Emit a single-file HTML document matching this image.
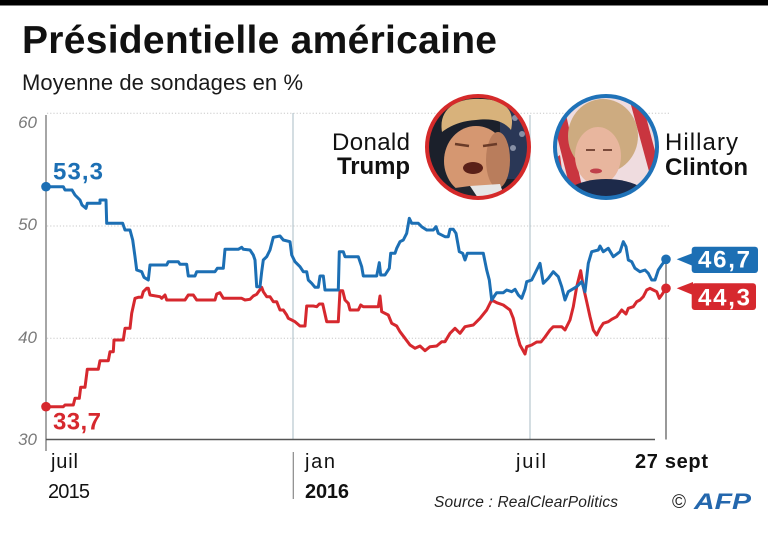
<!DOCTYPE html>
<html><head><meta charset="utf-8"><style>
html,body{margin:0;padding:0;background:#fff;}
svg{display:block;font-family:"Liberation Sans",Arial,sans-serif;}
</style></head><body>
<svg width="768" height="533" viewBox="0 0 768 533" xmlns="http://www.w3.org/2000/svg">
<rect x="0" y="0" width="768" height="533" fill="#fff"/>
<rect x="0" y="0" width="768" height="5.5" fill="#000"/>
<text x="22" y="53" font-size="39" font-weight="bold" fill="#111" textLength="475" lengthAdjust="spacing">Présidentielle américaine</text>
<text x="22" y="90" font-size="22" fill="#1a1a1a" textLength="281" lengthAdjust="spacing">Moyenne de sondages en %</text>

<!-- gridlines -->
<g stroke="#c8c8c8" stroke-width="1" stroke-dasharray="1.2 2">
<line x1="47" y1="113.3" x2="671" y2="113.3"/>
<line x1="47" y1="226" x2="671" y2="226"/>
<line x1="47" y1="338.3" x2="671" y2="338.3"/>
</g>
<g stroke="#bccbd2" stroke-width="1.3">
<line x1="293" y1="113" x2="293" y2="439"/>
<line x1="530" y1="115" x2="530" y2="439"/>
</g>
<!-- axes -->
<line x1="46" y1="115" x2="46" y2="451" stroke="#888" stroke-width="1.5"/>
<line x1="46" y1="439.5" x2="655" y2="439.5" stroke="#555" stroke-width="1.5"/>
<line x1="666" y1="262" x2="666" y2="439.5" stroke="#555" stroke-width="1.2"/>
<line x1="293.3" y1="452" x2="293.3" y2="499" stroke="#888" stroke-width="1.2"/>

<g font-size="17" font-style="italic" fill="#7a7a7a" text-anchor="end">
<text x="37" y="128">60</text>
<text x="37" y="230">50</text>
<text x="37" y="343">40</text>
<text x="37" y="445">30</text>
</g>

<!-- x labels -->
<g font-size="20" fill="#111">
<text x="51" y="468" textLength="27" lengthAdjust="spacing">juil</text>
<text x="48" y="498" textLength="42">2015</text>
<text x="305" y="468" textLength="30" lengthAdjust="spacing">jan</text>
<text x="305" y="498" font-weight="bold" textLength="44">2016</text>
<text x="516" y="468" textLength="30" lengthAdjust="spacing">juil</text>
<text x="635" y="468" font-size="20" font-weight="bold" textLength="73">27 sept</text>
</g>
<text x="434" y="507" font-size="15.5" font-style="italic" fill="#222" textLength="184">Source : RealClearPolitics</text>
<text x="672" y="508" font-size="19" fill="#222">©</text>
<text x="694" y="509" font-size="22" font-weight="bold" font-style="italic" fill="#2467ad" textLength="57" lengthAdjust="spacingAndGlyphs">AFP</text>

<!-- series -->
<polyline fill="none" stroke="#d6282e" stroke-width="3" stroke-linejoin="round" points="46,406.7 63.3,406.7 65,405 73.3,405 75,398.3 79.3,398.3 80.7,387.3 85,387.3 87.3,369.3 98.3,369.3 100,360.7 108.3,360.7 110,351.7 113.3,351.7 114,340 123.3,340 125,328.3 130,328.3 131.7,313.3 135,298.3 138.3,297.3 141.7,297.3 143.3,291.7 146.7,288.3 148.3,288.3 150,295 160,296.7 161.7,298.3 165,295 166.7,300 185,300 188.3,295 193.3,295 196.7,300 215,300 216.7,294 220,292.7 223.3,298.3 241.7,298.3 245,300 250,299.3 253.3,296 256.7,294.3 261.7,287.3 263.3,291.7 266.7,296.7 270,296.7 273.3,301.7 276.7,301.7 280,310 283.3,310 286.7,315 288.3,318.3 291.7,320 295,321.7 300,326 305,326 306.7,306 313.3,306 316.7,306.7 319.3,304 322.7,304 326.7,321.7 338.3,321.7 340,290.7 342.7,290.7 345,300 348.3,303.3 350,310 358.3,310 360.7,305 363.3,306.7 378.3,306.7 380,296 381.7,311.7 388.3,315 391.7,323.3 396.7,326 400,331.7 405,338.3 410,345 415,348.3 420,346 425,350.7 430,346.7 436.7,346 441.7,341.7 445,341.7 450,333.3 455,328.3 460,333.3 465,326.7 473.3,325 480,318.3 486.7,310 491.7,300 496.7,302.7 503.3,305 510,310 513.3,318.3 516.7,333.3 520,345 525,354 526.7,346.7 531.7,345 536.7,342 541,342 545,337 550,330 553.3,326.7 561.7,326.7 565,330 570,320 573.3,306.7 576.7,286.7 580.7,270.7 583.3,286.7 586.7,301.7 590,316.7 593.3,330 596.7,335 600,328.3 603.3,323.3 608.3,321.7 611.7,319.3 616.7,316.7 621.7,310 626,314 628.3,308.3 633.3,306.7 636.7,301.7 640,300 643.3,296.7 646.7,290 650,288.3 653.3,290 656.7,291.7 659.3,298.3 661.7,295 666,288.3"/>
<polyline fill="none" stroke="#1c6fb4" stroke-width="3" stroke-linejoin="round" points="46,186.7 63.3,186.7 65,190 72,190 75,195 80,200 82,205 86,208.3 87.3,203.3 100,203.3 100,200 106,200 106.7,223.3 122.7,223.3 125,230 130,230 132.7,240 135,256.7 136.7,270 141.7,271.7 144,277.3 148.3,280 150,265 166.7,265 168.3,261.7 178.3,261.7 180,264.3 186.7,264.3 188.3,276 195,276 196.7,271.7 215,271.7 217.3,268.3 223.3,268.3 225,249.3 238.3,249.3 241.7,247.3 243.3,249.3 250,250 253.3,255 255,260 256.7,286.7 260,286.7 261.7,271.7 263.3,260 266.7,256.7 270,250 273.3,237.3 280,236 283.3,240 290,241.7 291.7,255 295,261.7 300,266.7 303.3,271.7 306.7,271.7 308.3,280 311.7,283.3 315,287.3 318.3,287.3 320,276 323.3,276 325,290 338.3,290 339.3,251.7 343.3,251.7 345,256.7 358.3,256.7 361.7,266.7 363.3,276 376.7,276 379.3,262.7 380.7,275 385,275 389.3,268.3 390.7,253.3 395,253.3 396.7,248.3 400,241.7 403.3,240 406.7,233.3 409.3,218.3 411.7,223.3 418.3,223.3 421.7,226.7 426.7,230 433.3,230 436,226.7 438.3,233.3 445,236.7 448.3,236.7 450,229.3 453.3,229.3 456,233.3 459.3,251.7 462.7,253.3 465,260 467.3,253.3 483.3,253.3 486.7,270 489.3,280 491.7,300 495,295 496.7,292.7 503.3,292.7 506.7,290 511.7,291.7 515,289.3 518.3,295 521.7,298.3 525,289.3 526.7,281.7 531.7,280 536.7,270 540,263.3 543.3,283.3 548.3,278.3 553.3,271.7 558.3,276.7 561.7,286.7 565,300 568.3,291.7 576.7,286.7 581.7,281.7 585,291.7 588.3,263.3 591.7,251.7 598.3,250 600,246 603.3,251.7 608.3,248.3 613.3,256.7 620,251.7 623.3,241.7 626,246.7 628.3,260 631.7,261.7 635,268.3 640,271.7 645,270 648.3,273.3 651.7,280 655,280 658.3,270 661.7,265 666,259.3"/>
<circle cx="46" cy="186.7" r="4.8" fill="#1c6fb4"/>
<circle cx="46" cy="406.7" r="4.8" fill="#d6282e"/>
<circle cx="666" cy="259.3" r="4.8" fill="#1c6fb4"/>
<circle cx="666" cy="288.3" r="4.8" fill="#d6282e"/>

<text x="53" y="179.5" font-size="24" font-weight="bold" fill="#1c6fb4" textLength="50">53,3</text>
<text x="53" y="429.5" font-size="24" font-weight="bold" fill="#d6282e" textLength="48">33,7</text>

<!-- end labels -->
<polygon points="676.7,259.3 693,253 693,266" fill="#1c6fb4"/>
<rect x="691.7" y="246.7" width="66.3" height="26.3" rx="3" fill="#1c6fb4"/>
<text x="698" y="267.5" font-size="24" font-weight="bold" fill="#fff" textLength="52">46,7</text>
<polygon points="676.7,288.3 693,282 693,295" fill="#d6282e"/>
<rect x="691.7" y="283.3" width="64.3" height="26.7" rx="3" fill="#d6282e"/>
<text x="698" y="305.5" font-size="24" font-weight="bold" fill="#fff" textLength="52">44,3</text>

<!-- legend names -->
<text x="410" y="150" font-size="24" fill="#111" text-anchor="end" textLength="78">Donald</text>
<text x="410" y="174" font-size="24" font-weight="bold" fill="#111" text-anchor="end" textLength="73">Trump</text>
<text x="665" y="150" font-size="24" fill="#111" textLength="73">Hillary</text>
<text x="665" y="175" font-size="24" font-weight="bold" fill="#111" textLength="83">Clinton</text>

<defs>
<clipPath id="ct"><circle cx="478" cy="147" r="50"/></clipPath>
<clipPath id="cc"><circle cx="606" cy="147" r="50"/></clipPath>
</defs>
<!-- Trump portrait -->
<g clip-path="url(#ct)">
<rect x="425" y="94" width="107" height="107" fill="#1b202b"/>
<rect x="500" y="94" width="32" height="85" fill="#2a3756"/>
<circle cx="515" cy="118" r="3" fill="#8790a6"/>
<circle cx="522" cy="134" r="3" fill="#8790a6"/>
<circle cx="513" cy="148" r="3" fill="#8790a6"/>
<ellipse cx="476" cy="161" rx="32" ry="35" fill="#d59771"/>
<ellipse cx="498" cy="160" rx="12" ry="28" fill="#b97d5c"/>
<path d="M442,132 C438,108 458,98 480,99 C502,99 516,108 511,130 C504,121 492,118 476,120 C460,121 450,126 442,132 Z" fill="#d8b27b"/>
<path d="M455,144 l14,2 M483,146 l14,-2" stroke="#6a3b28" stroke-width="2.5"/>
<ellipse cx="473" cy="168" rx="10" ry="6" fill="#5a2018"/>
<path d="M440,190 L470,186 L485,201 L440,201 Z" fill="#222730"/>
<path d="M470,186 L500,184 L506,201 L480,201 Z" fill="#e6e6e6"/>
</g>
<circle cx="478" cy="147" r="51" fill="none" stroke="#d52a2a" stroke-width="4"/>
<!-- Clinton portrait -->
<g clip-path="url(#cc)">
<rect x="553" y="94" width="107" height="107" fill="#efdcdf"/>
<path d="M553,120 L565,110 L585,200 L573,200 Z" fill="#c9353f"/>
<path d="M553,160 L560,155 L566,200 L553,200 Z" fill="#c9353f"/>
<path d="M628,94 L640,94 L660,170 L650,175 Z" fill="#c9353f"/>
<path d="M645,94 L660,94 L660,130 Z" fill="#c9353f"/>
<ellipse cx="603" cy="136" rx="35" ry="37" fill="#cdab80"/>
<ellipse cx="598" cy="156" rx="23" ry="29" fill="#e8b69e"/>
<path d="M586,150 l9,0 M603,150 l9,0" stroke="#7a4a3a" stroke-width="2"/>
<ellipse cx="596" cy="171" rx="6" ry="2.5" fill="#c0404a"/>
<ellipse cx="606" cy="207" rx="50" ry="28" fill="#1d2a4a"/>
</g>
<circle cx="606" cy="147" r="51" fill="none" stroke="#1f72b8" stroke-width="4"/>
</svg>
</body></html>
